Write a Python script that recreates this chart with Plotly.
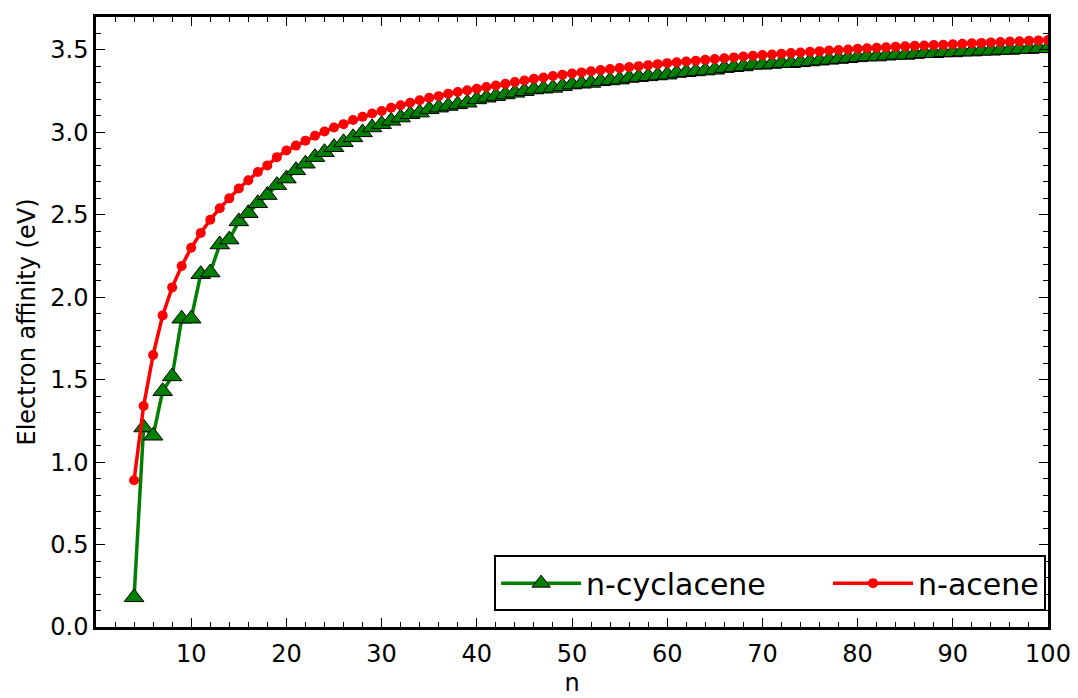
import plotly.graph_objects as go

n_values = list(range(4, 101))

cyclacene_ea = [
    0.18, 1.21, 1.16, 1.43, 1.52, 1.87, 1.87, 2.14, 2.15, 2.32,   # 4-13
    2.35, 2.46, 2.51, 2.57, 2.62, 2.68, 2.72, 2.77, 2.81, 2.85,   # 14-23
    2.88, 2.91, 2.94, 2.97, 3.00, 3.03, 3.05, 3.07, 3.09, 3.11,   # 24-33
    3.12, 3.14, 3.15, 3.16, 3.17, 3.18, 3.20, 3.21, 3.22, 3.23,   # 34-43
    3.24, 3.25, 3.26, 3.265, 3.27, 3.28, 3.29, 3.295, 3.30, 3.31, # 44-53
    3.315, 3.32, 3.33, 3.335, 3.34, 3.345, 3.35, 3.36, 3.365, 3.37, # 54-63
    3.375, 3.38, 3.39, 3.395, 3.40, 3.41, 3.41, 3.415, 3.42, 3.42, # 64-73
    3.425, 3.43, 3.435, 3.44, 3.445, 3.45, 3.455, 3.46, 3.46, 3.465, # 74-83
    3.47, 3.47, 3.475, 3.48, 3.48, 3.485, 3.485, 3.49, 3.49, 3.495, # 84-93
    3.495, 3.50, 3.50, 3.505, 3.505, 3.51, 3.51,                  # 94-100
]

acene_ea = [
    0.89, 1.34, 1.65, 1.89, 2.06, 2.19, 2.30, 2.39, 2.47, 2.54,   # 4-13
    2.60, 2.66, 2.71, 2.76, 2.80, 2.85, 2.89, 2.92, 2.95, 2.98,   # 14-23
    3.005, 3.03, 3.05, 3.075, 3.095, 3.115, 3.13, 3.15, 3.165, 3.18, # 24-33
    3.195, 3.21, 3.22, 3.235, 3.245, 3.255, 3.265, 3.275, 3.285, 3.295, # 34-43
    3.305, 3.315, 3.325, 3.333, 3.342, 3.35, 3.357, 3.364, 3.371, 3.378, # 44-53
    3.384, 3.39, 3.396, 3.402, 3.408, 3.414, 3.42, 3.425, 3.43, 3.435, # 54-63
    3.44, 3.445, 3.45, 3.455, 3.46, 3.465, 3.469, 3.473, 3.477, 3.481, # 64-73
    3.485, 3.489, 3.493, 3.497, 3.50, 3.503, 3.507, 3.51, 3.513, 3.516, # 74-83
    3.519, 3.522, 3.525, 3.527, 3.53, 3.532, 3.535, 3.538, 3.541, 3.543, # 84-93
    3.546, 3.548, 3.551, 3.553, 3.556, 3.558, 3.56,               # 94-100
]

x_major_ticks = [10, 20, 30, 40, 50, 60, 70, 80, 90, 100]
x_minor_ticks = list(range(2, 100, 2))
y_major_ticks = [0.0, 0.5, 1.0, 1.5, 2.0, 2.5, 3.0, 3.5]
y_tick_labels = ["0.0", "0.5", "1.0", "1.5", "2.0", "2.5", "3.0", "3.5"]

FONT = "DejaVu Sans"
NBSP = "\u00a0"

fig = go.Figure()
fig.add_trace(go.Scatter(
    x=n_values, y=cyclacene_ea, mode="lines+markers",
    name="n-cyclacene" + NBSP * 6,
    line=dict(color="#007f00", width=3.5),
    marker=dict(symbol="triangle-up", size=17, color="#007f00",
                line=dict(color="black", width=1)),
))
fig.add_trace(go.Scatter(
    x=n_values, y=acene_ea, mode="lines+markers", name="n-acene",
    line=dict(color="#ff0000", width=3.5),
    marker=dict(symbol="circle", size=10, color="#ff0000",
                line=dict(color="#ff0000", width=0)),
))

axis_common = dict(
    showline=True, linecolor="black", linewidth=2.5, mirror="ticks",
    ticks="inside", ticklen=9, tickwidth=1.4, tickcolor="black",
    showgrid=False, zeroline=False,
    tickfont=dict(family=FONT, size=24, color="black"),
)

fig.update_xaxes(
    range=[0, 100], tickmode="array", tickvals=x_major_ticks,
    ticklabelstandoff=3,
    title=dict(text="n", font=dict(family=FONT, size=24, color="black"), standoff=8),
    minor=dict(tickmode="array", tickvals=x_minor_ticks, ticks="inside",
               ticklen=5, tickwidth=1.1, tickcolor="black"),
    **axis_common,
)
fig.update_yaxes(
    range=[0, 3.7], tickmode="array", tickvals=y_major_ticks, ticktext=y_tick_labels,
    title=dict(text="Electron affinity (eV)", font=dict(family=FONT, size=24, color="black"), standoff=8),
    minor=dict(dtick=0.1, ticks="inside", ticklen=5, tickwidth=1.1, tickcolor="black"),
    **axis_common,
)

# page body has an 8px margin, so the figure is offset by 8px
fig.update_layout(
    width=1070, height=690,
    margin=dict(l=88, r=30, t=6, b=70),
    plot_bgcolor="white", paper_bgcolor="white",
    font=dict(family=FONT, color="black"),
    legend=dict(
        orientation="h", x=0.998, y=0.026, xanchor="right", yanchor="bottom",
        bordercolor="black", borderwidth=2, bgcolor="white",
        font=dict(family=FONT, size=30, color="black"),
        itemwidth=80,
    ),
)

fig.write_html("out.html")
